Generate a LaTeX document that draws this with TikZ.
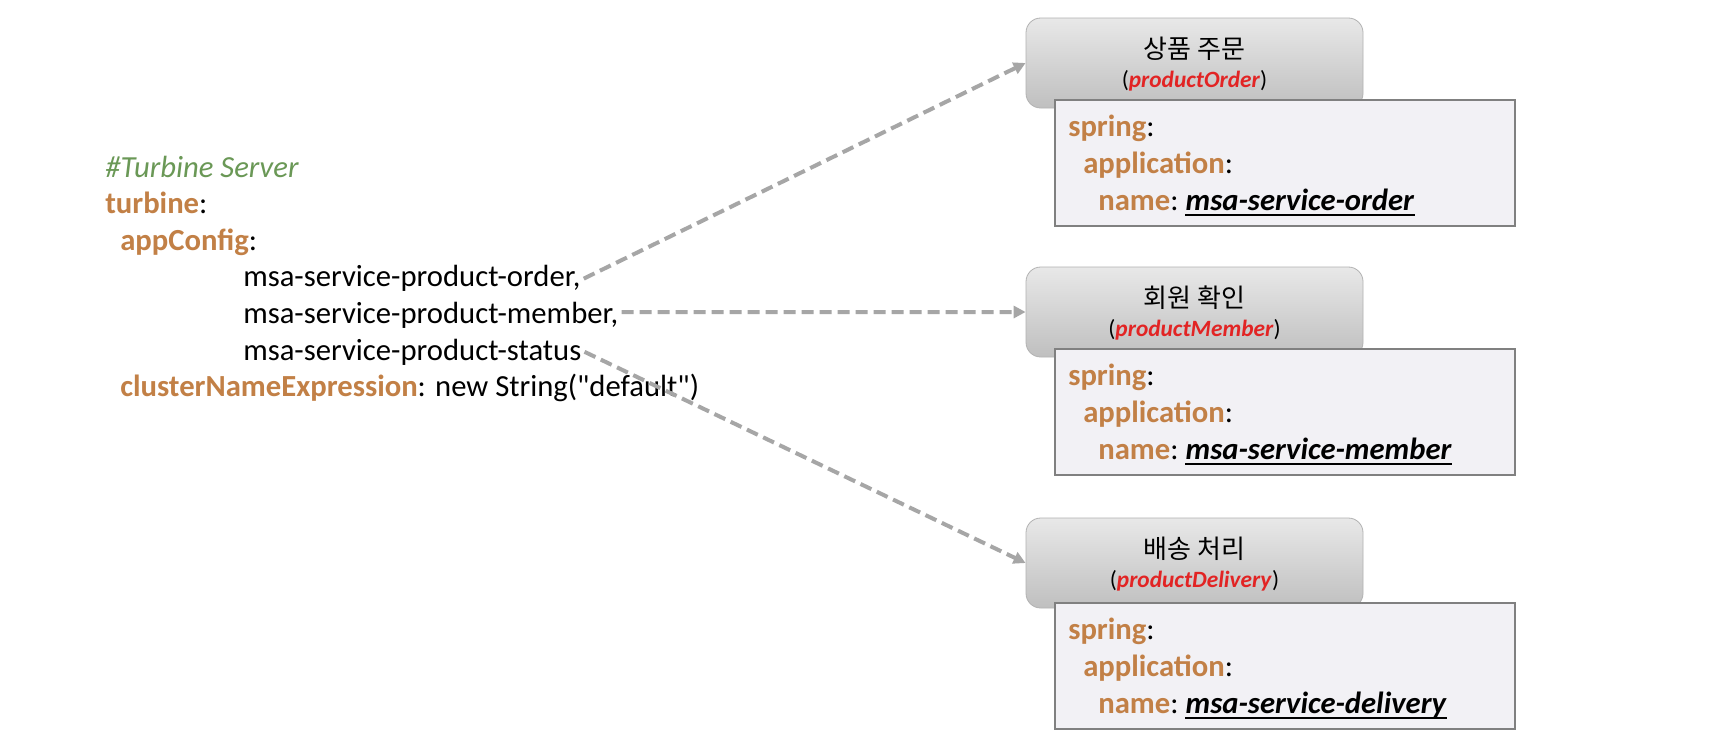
\documentclass[tikz,border=0pt]{standalone}
\usepackage{fontspec}
\setmainfont{Carlito}[Ligatures=TeXOff]
\newfontfamily\krfont{Noto Sans CJK KR}
\usetikzlibrary{arrows.meta,calc}
\definecolor{keyc}{RGB}{194,128,70}
\definecolor{cmtc}{RGB}{106,152,86}
\definecolor{redc}{RGB}{226,36,36}
\definecolor{arrc}{RGB}{166,166,166}
\definecolor{codefill}{RGB}{242,241,245}
\newcommand\kw[1]{\textcolor{keyc}{\bfseries #1}}
\newcommand\valtxt[1]{\textbf{\textit{#1}}}
\tikzset{
  txt/.style={anchor=base west, inner sep=0pt, font=\fontsize{23}{27}\selectfont},
  graybox/.style={draw=black!30, line width=0.6pt, rounded corners=11pt,
    top color=black!9, bottom color=black!25,
    minimum width=252.75pt, minimum height=67.5pt},
  codebox/.style={draw=black!50, line width=0.9pt, fill=codefill,
    minimum width=345pt, minimum height=94.5pt},
  krtitle/.style={inner sep=0pt, font=\krfont\fontsize{19.5}{22}\selectfont},
  entitle/.style={inner sep=0pt, font=\fontsize{17.5}{20}\selectfont},
  conn/.style={draw=arrc, line width=3pt, dash pattern=on 9pt off 4.5pt,
    -{Triangle[length=9pt,width=9pt]}},
  uline/.style={draw=black, line width=1.6pt}
}
\begin{document}
\begin{tikzpicture}[x=0.75pt,y=-0.75pt]
\useasboundingbox (0,0) rectangle (1712,740);
\fill[white] (0,0) rectangle (1712,740);

% left configuration text
\node[txt] (l1) at (105,177) {\textit{\textcolor{cmtc}{\#Turbine Server}}};
\node[txt] (l2) at (105,213.6) {\kw{turbine}:};
\node[txt] (l3) at (120,250.2) {\kw{appConfig}:};
\node[txt] (l4) at (243,286.8) {msa-service-product-order,};
\node[txt] (l5) at (243,323.4) {msa-service-product-member,};
\node[txt] (l6) at (243,360) {msa-service-product-status};
\node[txt] (l7) at (120,396.6) {\kw{clusterNameExpression}: new String("default")};

% gray title boxes
\node[graybox] (g1) at (1194.5,63) {};
\node[graybox] (g2) at (1194.5,312) {};
\node[graybox] (g3) at (1194.5,563) {};
\node[krtitle] (t1k) at (1194.5,49) {상품 주문};
\node[entitle] (t1e) at (1194.5,81) {(\textcolor{redc}{\valtxt{productOrder}})};
\node[krtitle] (t2k) at (1194.5,298) {회원 확인};
\node[entitle] (t2e) at (1194.5,330) {(\textcolor{redc}{\valtxt{productMember}})};
\node[krtitle] (t3k) at (1194.5,549) {배송 처리};
\node[entitle] (t3e) at (1194.5,581) {(\textcolor{redc}{\valtxt{productDelivery}})};

% code boxes
\node[codebox] (c1) at (1285,163) {};
\node[codebox] (c2) at (1285,412) {};
\node[codebox] (c3) at (1285,666) {};

\node[txt] (s1) at (1068,136) {\kw{spring}:};
\node[txt] (a1) at (1083,173) {\kw{application}:};
\node[txt] (n1) at (1098,210) {\kw{name}:};
\node[txt, xshift=5pt] (v1) at (n1.base east) {\valtxt{msa-service-order}};
\draw[uline] ($(v1.base west)+(0,5)$) -- ($(v1.base east)+(0,5)$);

\node[txt] (s2) at (1068,385) {\kw{spring}:};
\node[txt] (a2) at (1083,422) {\kw{application}:};
\node[txt] (n2) at (1098,459) {\kw{name}:};
\node[txt, xshift=5pt] (v2) at (n2.base east) {\valtxt{msa-service-member}};
\draw[uline] ($(v2.base west)+(0,5)$) -- ($(v2.base east)+(0,5)$);

\node[txt] (s3) at (1068,639) {\kw{spring}:};
\node[txt] (a3) at (1083,676) {\kw{application}:};
\node[txt] (n3) at (1098,713) {\kw{name}:};
\node[txt, xshift=5pt] (v3) at (n3.base east) {\valtxt{msa-service-delivery}};
\draw[uline] ($(v3.base west)+(0,5)$) -- ($(v3.base east)+(0,5)$);

% connectors
\draw[conn] ($(l4.east)+(3,0)$) -- (g1.west);
\draw[conn] ($(l5.east)+(3,-3)$) -- (g2.west);
\draw[conn] ($(l6.east)+(3,0)$) -- (g3.west);
\end{tikzpicture}
\end{document}
